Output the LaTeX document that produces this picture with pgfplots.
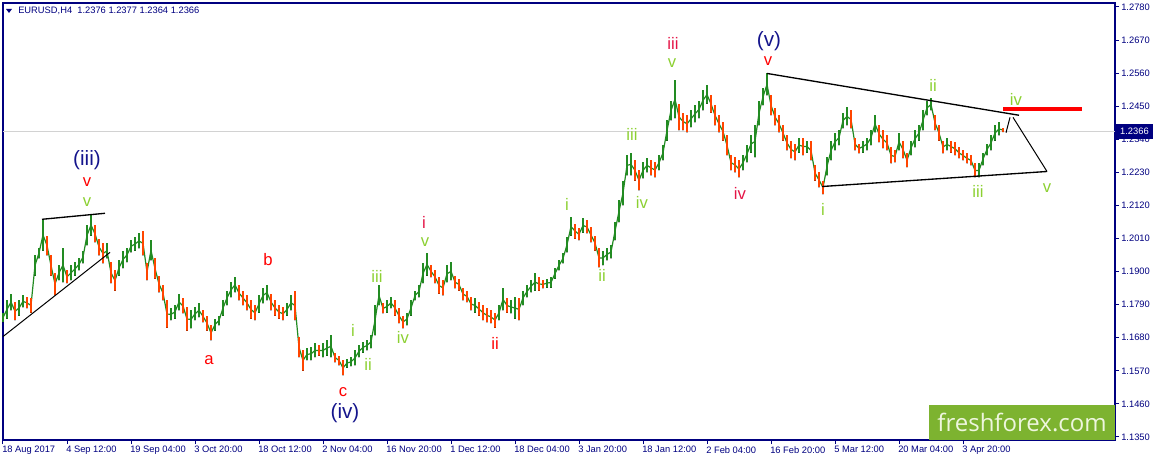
\documentclass[border=0pt]{standalone}
\usepackage{pgfplots}
\usepackage{pgfplotstable}
\pgfplotsset{compat=1.18}
\usepackage{fontspec}
\setmainfont{Liberation Sans}
\newfontfamily\ffont{Open Sans}
\definecolor{navy}{RGB}{0,0,128}
\definecolor{upc}{RGB}{34,139,34}
\definecolor{dnc}{RGB}{255,69,0}
\definecolor{wred}{RGB}{255,0,0}
\definecolor{wcrim}{RGB}{228,20,70}
\definecolor{wgrn}{RGB}{140,208,50}
\definecolor{wnavy}{RGB}{20,20,140}
\definecolor{ffg}{RGB}{125,179,48}
\definecolor{ffw}{RGB}{238,246,222}
\pgfplotstableread{
x hi lo d
3 1.1764 1.1731 1
7 1.1804 1.1744 1
11 1.1827 1.1771 1
15 1.1798 1.1738 0
19 1.1804 1.1754 1
23 1.1821 1.1781 1
27 1.1814 1.1778 0
31 1.1811 1.1764 0
35 1.1954 1.1887 1
39 1.1980 1.1944 1
43 1.2074 1.1970 1
47 1.2020 1.1954 0
51 1.1954 1.1887 0
55 1.1897 1.1821 0
59 1.1921 1.1871 1
63 1.1980 1.1864 1
67 1.1904 1.1861 0
71 1.1921 1.1871 1
75 1.1931 1.1887 1
79 1.1944 1.1904 1
83 1.1970 1.1927 1
87 1.2054 1.1987 1
91 1.2090 1.2020 1
95 1.2054 1.1997 0
99 1.2010 1.1954 0
103 1.1994 1.1927 0
107 1.1994 1.1944 1
111 1.1931 1.1861 0
115 1.1904 1.1837 0
119 1.1937 1.1887 1
123 1.1970 1.1911 1
127 1.1980 1.1931 1
131 1.2004 1.1964 1
135 1.2014 1.1970 1
139 1.2027 1.1977 1
143 1.2034 1.1954 0
147 1.1927 1.1871 0
151 1.2004 1.1937 1
155 1.1944 1.1877 0
159 1.1887 1.1831 0
163 1.1854 1.1804 0
167 1.1804 1.1714 0
171 1.1778 1.1738 1
175 1.1788 1.1744 1
179 1.1827 1.1771 1
183 1.1811 1.1761 0
187 1.1781 1.1704 0
191 1.1771 1.1711 1
195 1.1781 1.1738 1
199 1.1794 1.1748 1
203 1.1771 1.1731 0
207 1.1754 1.1704 0
211 1.1721 1.1671 0
215 1.1744 1.1704 1
219 1.1754 1.1721 1
223 1.1804 1.1754 1
227 1.1837 1.1788 1
231 1.1864 1.1814 1
235 1.1881 1.1831 1
239 1.1854 1.1804 0
243 1.1837 1.1788 0
247 1.1821 1.1771 0
251 1.1804 1.1744 0
255 1.1788 1.1738 0
259 1.1821 1.1764 1
263 1.1847 1.1794 1
267 1.1857 1.1804 1
271 1.1827 1.1771 0
275 1.1804 1.1754 0
279 1.1788 1.1744 0
283 1.1781 1.1738 0
287 1.1794 1.1754 1
291 1.1821 1.1771 1
295 1.1837 1.1738 0
299 1.1681 1.1615 0
303 1.1638 1.1571 0
307 1.1645 1.1605 1
311 1.1648 1.1605 1
315 1.1661 1.1615 1
319 1.1655 1.1621 0
323 1.1661 1.1615 1
327 1.1671 1.1621 1
331 1.1688 1.1615 1
335 1.1631 1.1598 0
339 1.1621 1.1588 0
343 1.1605 1.1555 0
347 1.1611 1.1581 1
351 1.1615 1.1585 1
355 1.1638 1.1588 1
359 1.1655 1.1615 1
363 1.1665 1.1631 1
367 1.1671 1.1638 1
371 1.1688 1.1645 1
375 1.1788 1.1688 1
379 1.1854 1.1788 1
383 1.1794 1.1761 0
387 1.1804 1.1764 1
391 1.1814 1.1778 1
395 1.1804 1.1754 0
399 1.1778 1.1728 0
403 1.1754 1.1711 0
407 1.1764 1.1721 1
411 1.1804 1.1754 1
415 1.1837 1.1804 1
419 1.1854 1.1814 1
423 1.1927 1.1861 1
427 1.1961 1.1887 1
431 1.1921 1.1881 0
435 1.1904 1.1861 0
439 1.1881 1.1827 0
443 1.1871 1.1821 0
447 1.1921 1.1864 1
451 1.1931 1.1871 1
455 1.1887 1.1844 0
459 1.1877 1.1837 0
463 1.1847 1.1804 0
467 1.1837 1.1798 0
471 1.1814 1.1771 0
475 1.1811 1.1764 1
479 1.1798 1.1754 0
483 1.1788 1.1738 0
487 1.1778 1.1731 0
491 1.1771 1.1728 0
495 1.1764 1.1714 0
499 1.1788 1.1738 1
503 1.1844 1.1771 1
507 1.1811 1.1764 0
511 1.1804 1.1761 1
515 1.1814 1.1744 1
519 1.1811 1.1738 0
523 1.1837 1.1788 1
527 1.1854 1.1814 1
531 1.1871 1.1831 1
535 1.1894 1.1837 1
539 1.1881 1.1837 0
543 1.1871 1.1844 0
547 1.1877 1.1847 1
551 1.1881 1.1847 1
555 1.1911 1.1877 1
559 1.1937 1.1904 1
563 1.1961 1.1927 1
567 1.2014 1.1964 1
571 1.2080 1.2020 1
575 1.2060 1.2010 0
579 1.2044 1.2004 0
583 1.2077 1.2030 1
587 1.2070 1.2027 0
591 1.2047 1.1997 0
595 1.2020 1.1970 0
599 1.1977 1.1914 0
603 1.1970 1.1921 1
607 1.1977 1.1937 1
611 1.1987 1.1944 1
615 1.2064 1.2004 1
619 1.2137 1.2064 1
623 1.2203 1.2120 1
627 1.2287 1.2220 1
631 1.2293 1.2220 1
635 1.2270 1.2203 0
639 1.2237 1.2170 0
643 1.2263 1.2210 1
647 1.2277 1.2230 1
651 1.2270 1.2220 0
655 1.2263 1.2213 0
659 1.2287 1.2237 1
663 1.2320 1.2270 1
667 1.2403 1.2336 1
671 1.2469 1.2403 1
675 1.2536 1.2410 1
679 1.2459 1.2370 0
683 1.2429 1.2370 0
687 1.2420 1.2363 0
691 1.2436 1.2380 1
695 1.2453 1.2396 1
699 1.2469 1.2410 1
703 1.2503 1.2436 1
707 1.2519 1.2459 1
711 1.2486 1.2429 0
715 1.2453 1.2386 0
719 1.2420 1.2363 0
723 1.2396 1.2336 0
727 1.2353 1.2287 0
731 1.2287 1.2237 0
735 1.2280 1.2230 0
739 1.2270 1.2213 0
743 1.2287 1.2237 1
747 1.2320 1.2263 1
751 1.2353 1.2296 1
755 1.2386 1.2280 1
759 1.2469 1.2386 1
763 1.2509 1.2453 1
767 1.2559 1.2486 1
771 1.2486 1.2420 0
775 1.2443 1.2386 0
779 1.2420 1.2363 0
783 1.2386 1.2336 0
787 1.2353 1.2303 0
791 1.2336 1.2277 0
795 1.2326 1.2270 0
799 1.2346 1.2296 1
803 1.2346 1.2287 0
807 1.2336 1.2296 1
811 1.2336 1.2270 0
815 1.2253 1.2203 0
819 1.2230 1.2180 0
823 1.2203 1.2157 0
827 1.2280 1.2220 1
831 1.2336 1.2270 1
835 1.2360 1.2303 1
839 1.2370 1.2320 1
843 1.2429 1.2376 1
847 1.2446 1.2386 1
851 1.2436 1.2376 0
855 1.2346 1.2303 0
859 1.2326 1.2293 0
863 1.2336 1.2296 1
867 1.2346 1.2303 1
871 1.2370 1.2320 1
875 1.2420 1.2363 1
879 1.2386 1.2330 0
883 1.2370 1.2310 0
887 1.2353 1.2303 0
891 1.2313 1.2260 0
895 1.2303 1.2263 0
899 1.2360 1.2303 1
903 1.2336 1.2277 0
907 1.2293 1.2247 0
911 1.2336 1.2287 1
915 1.2370 1.2313 1
919 1.2386 1.2336 1
923 1.2436 1.2370 1
927 1.2469 1.2420 1
931 1.2476 1.2436 1
935 1.2420 1.2370 0
939 1.2386 1.2336 0
943 1.2336 1.2293 0
947 1.2343 1.2303 1
951 1.2336 1.2296 0
955 1.2330 1.2287 0
959 1.2313 1.2277 0
963 1.2303 1.2270 0
967 1.2293 1.2260 0
971 1.2287 1.2253 0
975 1.2260 1.2213 0
979 1.2260 1.2213 1
983 1.2296 1.2253 1
987 1.2326 1.2287 1
991 1.2353 1.2303 1
995 1.2386 1.2336 1
999 1.2396 1.2353 1
1003 1.2377 1.2364 0
}\candles
\newcommand{\wf}{\fontsize{12.5}{14}\selectfont}
\newcommand{\nf}{\fontsize{15.5}{18}\selectfont}
\begin{document}
\begin{tikzpicture}
\useasboundingbox (-2.25pt,-15.75pt) rectangle (864pt,330pt);
\begin{axis}[
  at={(0pt,0pt)}, anchor=south west,
  scale only axis, width=834pt, height=327.75pt,
  xmin=3, xmax=1115, ymin=1.1340, ymax=1.27933,
  axis line style={navy, line width=0.9pt},
  clip=false,
  xtick={3,67,131,195,259,323,387,451,515,579,643,707,771,835,899,963},
  xticklabels={18 Aug 2017,4 Sep 12:00,19 Sep 04:00,3 Oct 20:00,18 Oct 12:00,2 Nov 04:00,16 Nov 20:00,1 Dec 12:00,18 Dec 04:00,3 Jan 20:00,18 Jan 12:00,2 Feb 04:00,16 Feb 20:00,5 Mar 12:00,20 Mar 04:00,3 Apr 20:00},
  ytick={1.1350,1.1460,1.1570,1.1680,1.1790,1.1900,1.2010,1.2120,1.2230,1.2340,1.2450,1.2560,1.2670,1.2780},
  yticklabels={1.1350,1.1460,1.1570,1.1680,1.1790,1.1900,1.2010,1.2120,1.2230,1.2340,1.2450,1.2560,1.2670,1.2780},
  xtick pos=bottom, ytick pos=right, yticklabel pos=right,
  tick align=outside, major tick length=3pt,
  tick style={navy, line width=0.75pt},
  ticklabel style={font=\fontsize{7}{8}\selectfont, text=navy},
  xticklabel style={anchor=north west, inner sep=0pt, xshift=-0.75pt, yshift=-1.5pt},
  yticklabel style={anchor=west, inner sep=0pt, xshift=1.5pt},
]
% current price line
\addplot[gray!35, line width=0.75pt, forget plot] coordinates {(3,1.2366) (1115,1.2366)};
% connecting path of the bars
\addplot[upc, line width=0.9pt, mark=none, forget plot]
  table[x=x, y expr=(\thisrow{hi}+\thisrow{lo})/2] {\candles};
% candles up
\addplot[only marks, mark=*, mark size=0.01pt, mark options={draw=none, fill=none}, forget plot,
  x filter/.expression={\thisrow{d}>0 ? x : nan},
  error bars/.cd, y dir=plus, y explicit,
  error bar style={line width=1.75pt, upc}, error mark=none]
  table[x=x, y=lo, y error plus expr=\thisrow{hi}-\thisrow{lo}] {\candles};
% candles down
\addplot[only marks, mark=*, mark size=0.01pt, mark options={draw=none, fill=none}, forget plot,
  x filter/.expression={\thisrow{d}<1 ? x : nan},
  error bars/.cd, y dir=plus, y explicit,
  error bar style={line width=1.75pt, dnc}, error mark=none]
  table[x=x, y=lo, y error plus expr=\thisrow{hi}-\thisrow{lo}] {\candles};
% trend lines
\addplot[black, line width=0.75pt] coordinates {(3,1.1684) (110,1.1964)};
\addplot[black, line width=1pt] coordinates {(42,1.2074) (105,1.2094)};
\addplot[black, line width=1pt] coordinates {(767,1.2559) (1019,1.2420)};
\addplot[black, line width=1pt] coordinates {(822,1.2183) (1047,1.2233)};
\addplot[black, line width=0.75pt] coordinates {(1006,1.2362) (1010,1.2413)};
\addplot[black, line width=0.75pt] coordinates {(1013,1.2413) (1047,1.2233)};
\addplot[wred, line width=2.8pt] coordinates {(1003,1.2440) (1082,1.2440)};
% wave labels
\node[text=wnavy, font=\nf] at (axis cs:87,1.2270) {(iii)};
\node[text=wred, font=\wf] at (axis cs:87,1.2197) {v};
\node[text=wgrn, font=\wf] at (axis cs:87,1.2130) {v};
\node[text=wred, font=\wf] at (axis cs:268,1.1941) {b};
\node[text=wred, font=\wf] at (axis cs:209,1.1605) {a};
\node[text=wcrim, font=\wf] at (axis cs:424,1.2064) {i};
\node[text=wgrn, font=\wf] at (axis cs:425,1.1997) {v};
\node[text=wgrn, font=\wf] at (axis cs:377,1.1884) {iii};
\node[text=wgrn, font=\wf] at (axis cs:353,1.1704) {i};
\node[text=wgrn, font=\wf] at (axis cs:368,1.1591) {ii};
\node[text=wgrn, font=\wf] at (axis cs:403,1.1681) {iv};
\node[text=wred, font=\wf] at (axis cs:343,1.1498) {c};
\node[text=wnavy, font=\nf] at (axis cs:345,1.1428) {(iv)};
\node[text=wred, font=\wf] at (axis cs:495,1.1661) {ii};
\node[text=wgrn, font=\wf] at (axis cs:567,1.2124) {i};
\node[text=wgrn, font=\wf] at (axis cs:602,1.1887) {ii};
\node[text=wgrn, font=\wf] at (axis cs:632,1.2356) {iii};
\node[text=wgrn, font=\wf] at (axis cs:642,1.2130) {iv};
\node[text=wgrn, font=\wf] at (axis cs:672,1.2593) {v};
\node[text=wcrim, font=\wf] at (axis cs:673,1.2659) {iii};
\node[text=wnavy, font=\nf] at (axis cs:769,1.2666) {(v)};
\node[text=wred, font=\wf] at (axis cs:768,1.2599) {v};
\node[text=wcrim, font=\wf] at (axis cs:740,1.2160) {iv};
\node[text=wgrn, font=\wf] at (axis cs:823,1.2107) {i};
\node[text=wgrn, font=\wf] at (axis cs:933,1.2519) {ii};
\node[text=wgrn, font=\wf] at (axis cs:1016,1.2472) {iv};
\node[text=wgrn, font=\wf] at (axis cs:978,1.2167) {iii};
\node[text=wgrn, font=\wf] at (axis cs:1047,1.2177) {v};
\end{axis}
% header
\fill[navy] (2.25pt,323.25pt) -- (6.75pt,323.25pt) -- (4.5pt,320.25pt) -- cycle;
\node[anchor=west, inner sep=0pt, text=navy, font=\fontsize{7}{8}\selectfont] at (11.25pt,321.75pt) {EURUSD,H4\ \ 1.2376 1.2377 1.2364 1.2366};
% price box
\fill[navy] (834.75pt,225.75pt) rectangle (862.5pt,237pt);
\node[text=white, font=\fontsize{7}{8}\selectfont, inner sep=0pt] at (848.6pt,231.4pt) {1.2366};
% watermark
\fill[ffg] (694.5pt,0pt) rectangle (834pt,26.25pt);
\node[text=ffw, font=\ffont\fontsize{18}{20}\selectfont, inner sep=0pt] at (764.25pt,13.5pt) {freshforex.com};
\end{tikzpicture}
\end{document}
